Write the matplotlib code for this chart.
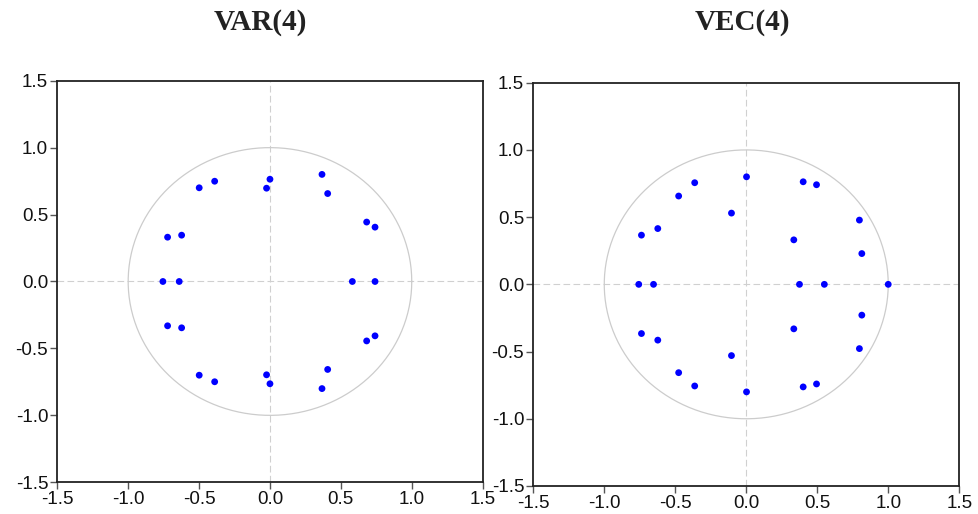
import numpy as np
import matplotlib
matplotlib.use("Agg")
import matplotlib.pyplot as plt

# Inverse roots of the characteristic polynomial (real part, positive imaginary part).
# Complex roots come in conjugate pairs, so only the upper half is listed.
var_real_roots = [-0.755, -0.640, 0.581, 0.741]
var_complex_re = [-0.722, -0.623, -0.499, -0.390, -0.024, 0.000, 0.367, 0.407, 0.682, 0.741]
var_complex_im = [0.331, 0.346, 0.700, 0.749, 0.697, 0.764, 0.800, 0.657, 0.444, 0.406]

vec_real_roots = [-0.757, -0.653, 0.375, 0.550, 1.000]
vec_complex_re = [-0.738, -0.623, -0.476, -0.363, -0.104, 0.002, 0.401, 0.495, 0.335, 0.797, 0.814]
vec_complex_im = [0.366, 0.415, 0.657, 0.756, 0.530, 0.800, 0.763, 0.741, 0.331, 0.478, 0.229]

ticks = [-1.5, -1.0, -0.5, 0.0, 0.5, 1.0, 1.5]

plt.rcParams["font.family"] = ["Liberation Sans", "DejaVu Sans"]


def all_roots(real_roots, cre, cim):
    re = list(real_roots) + list(cre) + list(cre)
    im = [0.0] * len(real_roots) + list(cim) + [-v for v in cim]
    return np.array(re), np.array(im)


def draw_panel(ax, re, im):
    t = np.linspace(0, 2 * np.pi, 400)
    ax.plot(np.cos(t), np.sin(t), color="#cccccc", lw=0.9, zorder=1)
    ax.axhline(0, color="#d0d0d0", lw=0.8, ls=(0, (6, 3)), zorder=0)
    ax.axvline(0, color="#d0d0d0", lw=0.8, ls=(0, (6, 3)), zorder=0)
    ax.scatter(re, im, s=24, color="#0000ff", edgecolors="none", zorder=3)
    ax.set_xlim(-1.5, 1.5)
    ax.set_ylim(-1.5, 1.5)
    ax.set_xticks(ticks)
    ax.set_yticks(ticks)
    ax.set_xticklabels([f"{v:.1f}" for v in ticks])
    ax.set_yticklabels([f"{v:.1f}" for v in ticks])
    ax.tick_params(direction="out", length=5, width=1.0, color="#555555",
                   labelsize=13.5, pad=1.5, labelcolor="#111111")
    for sp in ax.spines.values():
        sp.set_linewidth(1.3)
        sp.set_color("#222222")


fig = plt.figure(figsize=(9.79, 5.14), dpi=100)
ax1 = fig.add_axes([0.0585, 0.0617, 0.4345, 0.7813])
ax2 = fig.add_axes([0.5447, 0.0545, 0.4351, 0.7846])

draw_panel(ax1, *all_roots(var_real_roots, var_complex_re, var_complex_im))
draw_panel(ax2, *all_roots(vec_real_roots, vec_complex_re, vec_complex_im))

fig.text(260 / 979, 1 - 22 / 514, "VAR(4)", ha="center", va="center",
         fontsize=21, fontweight="bold", family="Liberation Serif", color="#222222")
fig.text(742 / 979, 1 - 22 / 514, "VEC(4)", ha="center", va="center",
         fontsize=21, fontweight="bold", family="Liberation Serif", color="#222222")

fig.savefig("out.png", dpi=100)
